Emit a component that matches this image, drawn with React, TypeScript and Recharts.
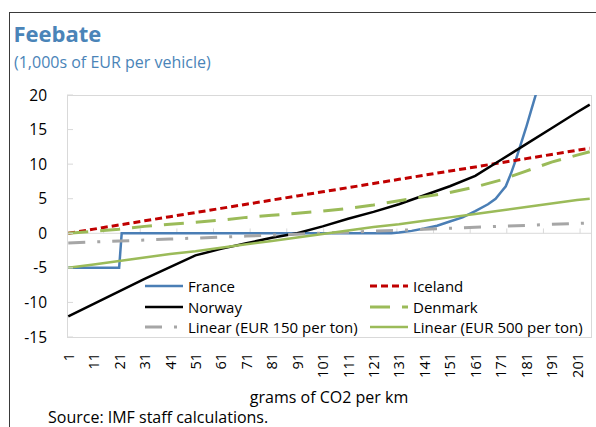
import React from 'react';
import { LineChart, Line, XAxis, YAxis, ReferenceLine, Legend } from 'recharts';

const grams = [1, 11, 21, 31, 41, 51, 61, 71, 81, 91, 101, 111, 121, 131, 141, 151, 161, 171, 181, 191, 201, 206];
const iceland = [0, 0.6, 1.2, 1.8, 2.4, 3.0, 3.6, 4.2, 4.8, 5.4, 6.0, 6.6, 7.2, 7.8, 8.4, 9.0, 9.6, 10.2, 10.8, 11.4, 12.0, 12.3];
const norway = [-12.0, -10.2, -8.4, -6.6, -4.9, -3.2, -2.25, -1.45, -0.65, 0.0, 1.0, 2.1, 3.1, 4.2, 5.5, 6.8, 8.3, 10.6, 12.9, 15.2, 17.5, 18.6];
const denmark = [0, 0.3, 0.6, 1.0, 1.3, 1.6, 1.9, 2.3, 2.6, 2.9, 3.2, 3.6, 4.1, 4.7, 5.3, 5.9, 6.7, 7.7, 9.0, 10.3, 11.3, 11.8];
const linear150 = [-1.4, -1.26, -1.12, -0.98, -0.83, -0.69, -0.55, -0.41, -0.27, -0.13, 0.02, 0.16, 0.3, 0.44, 0.58, 0.73, 0.87, 1.01, 1.15, 1.29, 1.43, 1.5];
const linear500 = [-5.0, -4.5, -4.0, -3.5, -3.0, -2.6, -2.1, -1.6, -1.1, -0.6, -0.1, 0.4, 0.9, 1.3, 1.8, 2.3, 2.8, 3.3, 3.8, 4.3, 4.8, 5.0];

const franceGrams = [1, 21, 22, 128, 131, 136, 141, 146, 151, 156, 161, 166, 169, 171, 173, 175, 177, 179, 181, 183, 185, 187];
const france = [-5, -5, 0, 0, 0.1, 0.35, 0.7, 1.1, 1.7, 2.3, 3.2, 4.2, 5.0, 5.9, 6.8, 8.6, 10.7, 13.0, 15.3, 17.8, 20.3, 22.8];

const xTicks = [1, 11, 21, 31, 41, 51, 61, 71, 81, 91, 101, 111, 121, 131, 141, 151, 161, 171, 181, 191, 201];
const yTicks = [-15, -10, -5, 0, 5, 10, 15, 20];
// small tick marks sitting on the zero line
const zeroTicks = [14.9, 29.3, 43.7, 58.1, 72.5, 86.9, 101.4, 115.8, 130.2, 144.6, 159, 173.4, 187.8, 202.2];

const toPoints = (xs: number[], ys: number[]) => xs.map((g, i) => ({ g, v: ys[i] }));

const series = [
  { name: 'France', data: toPoints(franceGrams, france), color: '#4a7eb5', width: 2.5, dash: undefined },
  { name: 'Iceland', data: toPoints(grams, iceland), color: '#c00000', width: 3, dash: '7 4' },
  { name: 'Norway', data: toPoints(grams, norway), color: '#000000', width: 2.5, dash: undefined },
  { name: 'Denmark', data: toPoints(grams, denmark), color: '#9bbb59', width: 3, dash: '20 12' },
  { name: 'Linear (EUR 150 per ton)', data: toPoints(grams, linear150), color: '#a6a6a6', width: 3, dash: '17 12 3 12' },
  { name: 'Linear (EUR 500 per ton)', data: toPoints(grams, linear500), color: '#9bbb59', width: 2.5, dash: undefined },
];

const FONT = '"Open Sans", "Noto Sans", sans-serif';
const BLUE = '#4a84b8';

const XTick = (props: any) => {
  const { x, y, payload } = props;
  return (
    <text
      x={x}
      y={y}
      transform={`rotate(-90, ${x}, ${y})`}
      textAnchor="end"
      dominantBaseline="central"
      fontSize={14.5}
      fill="#000"
    >
      {payload.value}
    </text>
  );
};

const LegendBox = () => (
  <div
    style={{
      display: 'grid',
      gridTemplateColumns: '225px 225px',
      gridAutoRows: '20.4px',
      fontSize: 15,
      color: '#000',
    }}
  >
    {series.map(s => (
      <div key={s.name} style={{ display: 'flex', alignItems: 'center', whiteSpace: 'nowrap' }}>
        <svg width={38} height={6} style={{ marginRight: 5 }}>
          <line x1={0} y1={3} x2={38} y2={3} stroke={s.color} strokeWidth={s.width} strokeDasharray={s.dash} />
        </svg>
        <span>{s.name}</span>
      </div>
    ))}
  </div>
);

export default function App() {
  return (
    <div
      style={{
        position: 'absolute',
        left: 0,
        top: 0,
        width: 596,
        height: 427,
        overflow: 'hidden',
        background: '#fff',
        fontFamily: FONT,
      }}
    >
      <div
        style={{
          position: 'absolute',
          left: 9,
          top: 12,
          width: 700,
          height: 500,
          border: '1px solid #3a3a3a',
        }}
      />
      <div style={{ position: 'absolute', left: 13.5, top: 22, fontSize: 22, lineHeight: 1, fontWeight: 700, color: BLUE }}>
        Feebate
      </div>
      <div style={{ position: 'absolute', left: 14, top: 54, fontSize: 16, lineHeight: 1, color: BLUE }}>
        (1,000s of EUR per vehicle)
      </div>
      <div
        style={{
          position: 'absolute',
          left: 67,
          top: 95,
          width: 525,
          height: 243,
          boxSizing: 'border-box',
          border: '1px solid #d9d9d9',
        }}
      />
      <div style={{ position: 'absolute', left: 0, top: 0 }}>
        <LineChart width={596} height={427} margin={{ top: 95, right: 5, left: 0, bottom: 0 }}>
          <XAxis
            type="number"
            dataKey="g"
            domain={[0.5, 206.5]}
            ticks={xTicks}
            interval={0}
            axisLine={false}
            tickLine={false}
            tickSize={0}
            tickMargin={16}
            height={90}
            tick={<XTick />}
            label={{ value: 'grams of CO2 per km', position: 'insideBottom', offset: 24, fill: '#000', fontSize: 16 }}
          />
          <YAxis
            type="number"
            domain={[-15, 20]}
            ticks={yTicks}
            interval={0}
            allowDataOverflow
            axisLine={false}
            tickSize={-6}
            tickMargin={26}
            tickLine={{ stroke: '#d9d9d9' }}
            tick={{ fill: '#000', fontSize: 15.5 }}
            width={67}
          />
          <ReferenceLine y={0} stroke="#d9d9d9" strokeWidth={1} />
          {zeroTicks.map(t => (
            <ReferenceLine
              key={t}
              segment={[{ x: t, y: 0 }, { x: t, y: 0.7 }]}
              stroke="#d9d9d9"
              strokeWidth={1}
            />
          ))}
          {series.map(s => (
            <Line
              key={s.name}
              data={s.data}
              dataKey="v"
              name={s.name}
              type="linear"
              stroke={s.color}
              strokeWidth={s.width}
              strokeDasharray={s.dash}
              dot={false}
              activeDot={false}
              isAnimationActive={false}
            />
          ))}
          <Legend
            layout="vertical"
            align="center"
            verticalAlign="middle"
            wrapperStyle={{ left: 145, top: 276, width: 450, height: 62 }}
            content={<LegendBox />}
          />
        </LineChart>
      </div>
      <div style={{ position: 'absolute', left: 48, top: 409, fontSize: 16, lineHeight: 1, color: '#000' }}>
        Source: IMF staff calculations.
      </div>
    </div>
  );
}
